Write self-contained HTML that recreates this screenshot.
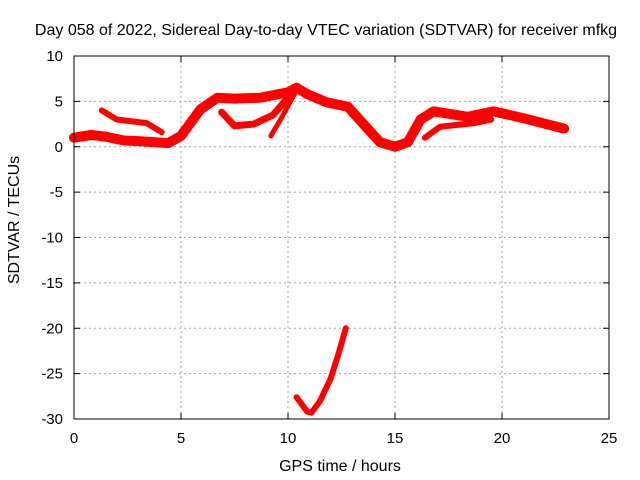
<!DOCTYPE html>
<html><head><meta charset="utf-8"><style>
body{margin:0;background:#fff}
svg{display:block;font-family:"Liberation Sans",sans-serif}
</style></head><body>
<svg id="c" width="640" height="480">
<text x="326" y="35" font-size="16" text-anchor="middle">Day 058 of 2022, Sidereal Day-to-day VTEC variation (SDTVAR) for receiver mfkg</text>
<text x="340" y="471" font-size="16" text-anchor="middle">GPS time / hours</text>
<text transform="translate(19,220) rotate(-90)" font-size="16" text-anchor="middle">SDTVAR / TECUs</text>
<g id="grid"></g><g id="ticks"></g><g id="series"></g>
<rect x="74" y="56" width="535" height="363" fill="none" stroke="#000"/>
</svg>
<script>
const xTicks=[0,5,10,15,20,25];
const yTicks=[10,5,0,-5,-10,-15,-20,-25,-30];
const mainBand=[[0,1.0],[0.8,1.3],[1.5,1.1],[2.3,0.7],[3.1,0.6],[3.8,0.5],[4.4,0.4],[5,1.2],[5.9,4.1],[6.7,5.4],[7.5,5.3],[8.7,5.4],[10,6.0],[10.4,6.5],[10.9,5.8],[11.8,4.9],[12.8,4.4],[13.6,2.3],[14.3,0.5],[15,0.0],[15.6,0.5],[16.2,3.0],[16.8,3.9],[18.4,3.3],[19.6,3.9],[20.9,3.2],[22.4,2.3],[22.9,2.0]];
const branchLeft=[[1.3,4.0],[2.0,3.0],[3.4,2.6],[4.1,1.6]];
const branchMid=[[6.9,3.8],[7.5,2.3],[8.4,2.5],[9.3,3.5],[10.0,5.4]];
const branchStreak=[[9.2,1.2],[9.7,3.2],[10.3,5.8]];
const branchRight=[[16.4,1.0],[17.1,2.2],[18.7,2.6],[19.5,3.0]];
const negTrack=[[10.4,-27.6],[10.9,-29.2],[11.1,-29.3],[11.5,-28.0],[12.0,-25.5],[12.4,-22.5],[12.7,-20.0]];
const X=h=>74+h*535/25, Y=v=>56+(10-v)*363/40;
const ns="http://www.w3.org/2000/svg";
const g=document.getElementById('grid'),t=document.getElementById('ticks'),s=document.getElementById('series');
function mk(tag,a,p){const e=document.createElementNS(ns,tag);for(const k in a)e.setAttribute(k,a[k]);p.appendChild(e);return e;}
xTicks.forEach(v=>{
  if(v>0&&v<25){const l=mk('line',{x1:X(v),x2:X(v),y1:56,y2:419,stroke:'#a0a0a0','stroke-dasharray':'2,3'},g);
  
  }
  const tx=mk('text',{x:X(v),y:443,'font-size':15,'text-anchor':'middle'},t);tx.textContent=v;
  
  
  mk('line',{x1:X(v),x2:X(v),y1:419,y2:413,stroke:'#000'},t);
  mk('line',{x1:X(v),x2:X(v),y1:56,y2:62,stroke:'#000'},t);
});
yTicks.forEach(v=>{
  if(v<10&&v>-30){const l=mk('line',{x1:74,x2:609,y1:Y(v),y2:Y(v),stroke:'#a0a0a0','stroke-dasharray':'2,3'},g);
  
  }
  const tx=mk('text',{x:63,y:Y(v)+5,'font-size':15,'text-anchor':'end'},t);tx.textContent=v;
  
  
  mk('line',{x1:74,x2:80,y1:Y(v),y2:Y(v),stroke:'#000'},t);
  mk('line',{x1:603,x2:609,y1:Y(v),y2:Y(v),stroke:'#000'},t);
});
function track(d,w,name){
  const p=mk('polyline',{points:d.map(q=>X(q[0])+','+Y(q[1])).join(' '),fill:'none',stroke:'#f00','stroke-width':w,'stroke-linejoin':'round','stroke-linecap':'round'},s);
  
  
}
track(mainBand,10,'main-band-series');
track(branchLeft,6,'left-branch-series');
track(branchMid,7,'middle-branch-series');
track(branchStreak,5,'streak-series');
track(branchRight,6,'right-branch-series');
track(negTrack,6,'negative-track-series');
</script>
</body></html>
